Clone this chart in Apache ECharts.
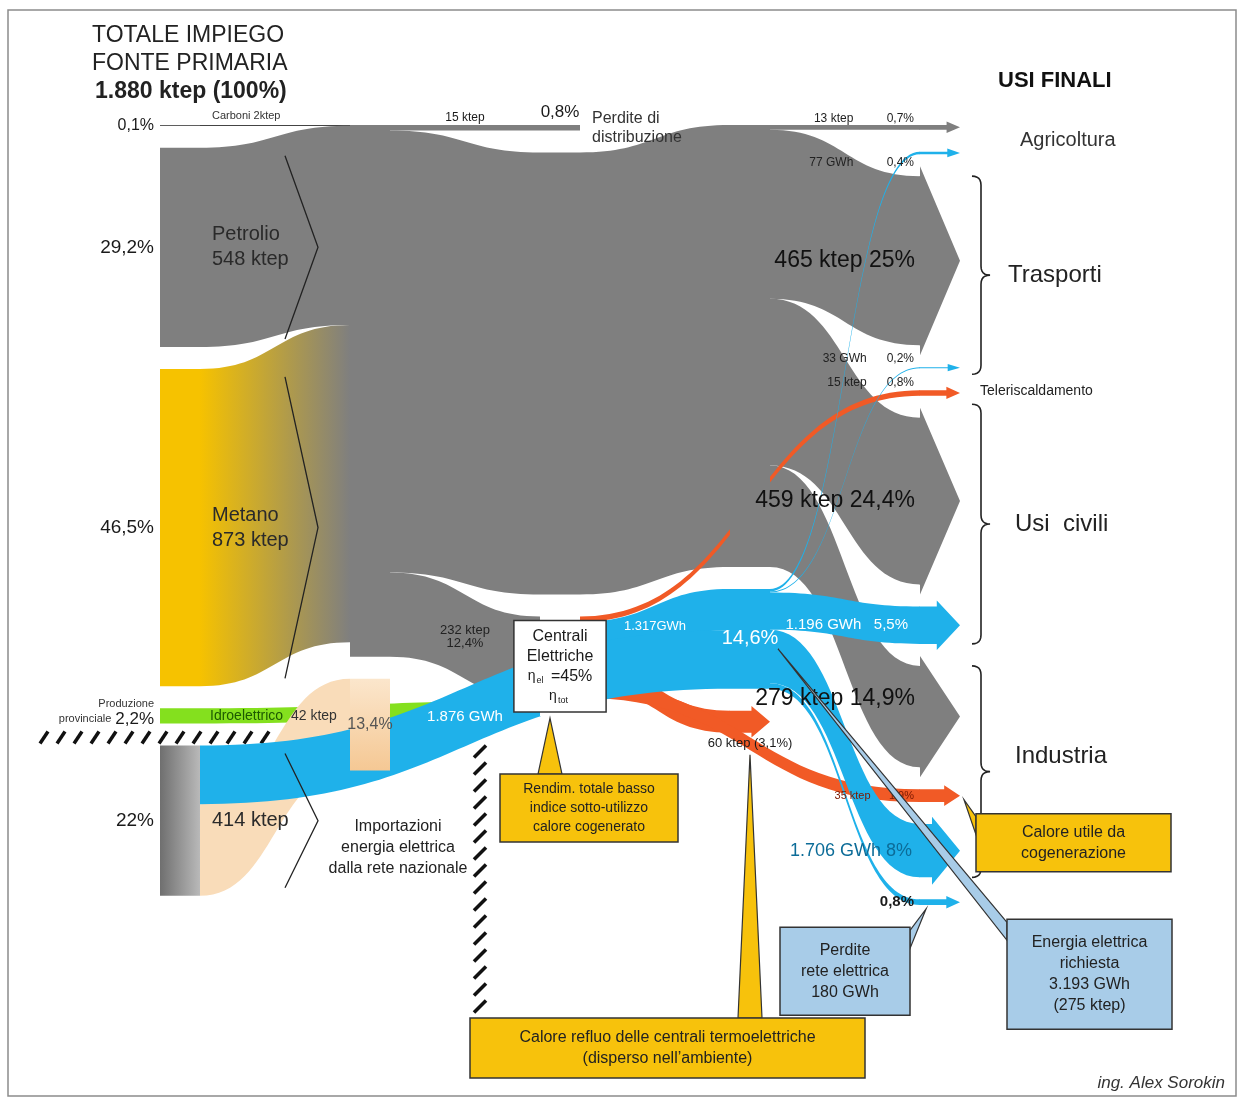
<!DOCTYPE html>
<html lang="it"><head><meta charset="utf-8"><title>Bilancio energetico</title>
<script src="https://cdn.jsdelivr.net/npm/echarts@6.0.0/dist/echarts.min.js"></script>
<style>html,body{margin:0;padding:0;background:#fff}#chart{width:1239px;height:1100px}</style>
</head><body><div id="chart"></div>
<script>
// ---------------- DATA ----------------
const sources = ['Carboni', 'Petrolio', 'Metano', 'Idroelettrico', 'Importazioni'];
const sourceKtep = [2, 548, 873, 42, 414];
const sourcePct = ['0,1%', '29,2%', '46,5%', '2,2%', '22%'];

const fuelDest = ['Perdite di distribuzione', 'Centrali Elettriche', 'Agricoltura', 'Trasporti', 'Usi civili', 'Industria'];
const fuelKtep = [15, 232, 13, 465, 459, 279];
const fuelPct = ['0,8%', '12,4%', '0,7%', '25%', '24,4%', '14,9%'];

const elecSources = ['Centrali Elettriche', 'Importazioni'];
const elecSourceGWh = [1317, 1876];
const elecDest = ['Agricoltura', 'Trasporti', 'Usi civili', 'Industria', 'Perdite rete elettrica'];
const elecGWh = [77, 33, 1196, 1706, 180];
const elecPct = ['0,4%', '0,2%', '5,5%', '8%', '0,8%'];

const heatDest = ['Calore refluo', 'Teleriscaldamento', 'Industria'];
const heatKtep = [60, 15, 35];
const heatPct = ['3,1%', '0,8%', '1,9%'];

const importLossKtep = 252;
const importLossPct = '13,4%';
const elecTotal = { gwh: 3193, ktep: 275, pct: '14,6%' };
const GWH_TO_KTEP = 0.086;

// ---------------- helpers ----------------
const FONT = 'Liberation Sans, Arial, sans-serif';
const COL = { gray: '#7f7f7f', cyan: '#1fb1ea', orange: '#f15a26', green: '#84e01e', yellow: '#f6c200',
  boxY: '#f7c20c', boxB: '#a8cce8' };
const CLEAR = 'rgba(0,0,0,0)';
const fmt = n => String(n).replace(/\B(?=(\d{3})+(?!\d))/g, '.');
const fuelNode = s => s + ' · combustibili';
const elecNode = s => s + ' · energia elettrica';
const HUB1 = 'Combustibili fossili', HUB2 = 'Combustibili (trasporto)', HUB3 = 'Combustibili ai settori';
const ELE = 'Energia elettrica', LOSS = 'Perdite importazione', CEN = 'Centrali Elettriche';
const direct = ['Perdite di distribuzione', CEN, 'Perdite rete elettrica', 'Calore refluo', 'Teleriscaldamento'];
const destNodeName = (d, kind) => direct.indexOf(d) >= 0 ? d : (kind === 'f' ? fuelNode(d) : kind === 'e' ? elecNode(d) : d + ' · calore');

// ---------------- nodes ----------------
const nodes = [];
function addNode(name, depth, style, labA, labB, arrow) { nodes.push({ name, depth, style, labA, labB, arrow: !!arrow }); }

const srcColors = ['#2a2a2a', COL.gray, COL.yellow, COL.green,
  { type: 'linear', x: 0, y: 0, x2: 1, y2: 0, colorStops: [{ offset: 0, color: '#6f6f6f' }, { offset: 1, color: '#b9b9b9' }] }];
sources.forEach((s, i) => {
  let labA = { formatter: sourcePct[i], fontSize: 19 };
  let labB = { formatter: s + '\n' + sourceKtep[i] + ' ktep', fontSize: 20, lineHeight: 25, color: '#2a2a2a' };
  if (s === 'Carboni') { labA = { formatter: sourcePct[i], fontSize: 16 }; labB = { formatter: 'Carboni ' + sourceKtep[i] + 'ktep', fontSize: 11, offset: [0, -9], color: '#333' }; }
  if (s === 'Idroelettrico') {
    labA = { formatter: '{s|Produzione}\n{s|provinciale} {p|' + sourcePct[i] + '}', align: 'right', offset: [0, -3],
      rich: { s: { fontSize: 11, lineHeight: 12, fontFamily: FONT, color: '#333' }, p: { fontSize: 17, lineHeight: 18, fontFamily: FONT, color: '#1a1a1a' } } };
    labB = { formatter: '{g|' + s + '}  ' + sourceKtep[i] + ' ktep', fontSize: 14, color: '#333', distance: 10,
      rich: { g: { fontSize: 14, color: '#1d5a00', fontFamily: FONT } } };
  }
  if (s === 'Importazioni') labB = { formatter: sourceKtep[i] + ' ktep', fontSize: 20, color: '#2a2a2a' };
  addNode(s, 0, { color: srcColors[i] }, labA, labB);
});
addNode(HUB1, 1, { color: COL.gray }, null, null);
addNode(LOSS, 1, { color: { type: 'linear', x: 0, y: 0, x2: 0, y2: 1, colorStops: [{ offset: 0, color: '#fbe6cc' }, { offset: 1, color: '#f5c894' }] } },
  { formatter: importLossPct, position: 'inside', fontSize: 16, color: '#555' }, null);
addNode('Perdite di distribuzione', 2, { color: COL.gray },
  { formatter: fuelPct[0], position: 'top', fontSize: 17, distance: 4 },
  { formatter: 'Perdite di\ndistribuzione', fontSize: 16, lineHeight: 19, color: '#333' });
addNode(HUB2, 2, { color: COL.gray }, null, null);
addNode(CEN, 2, { color: '#ffffff' },
  { formatter: 'Centrali\nElettriche\n{e|η}{s|el} =45%\n{e|η}{s|tot}', position: 'inside', fontSize: 16, lineHeight: 20,
    align: 'center', backgroundColor: '#fff', borderColor: '#333', borderWidth: 1.5, padding: [5, 12],
    rich: { e: { fontSize: 14, fontFamily: FONT, color: '#1a1a1a' }, s: { fontSize: 9, fontFamily: FONT, color: '#1a1a1a', padding: [8, 3, 0, 1] } } },
  null);
addNode(HUB3, 3, { color: COL.gray }, null, null);
addNode(ELE, 3, { color: COL.cyan }, { formatter: elecTotal.pct, position: 'inside', fontSize: 20, color: '#fff' }, null);
addNode('Calore refluo', 3, { color: COL.orange },
  { formatter: heatKtep[0] + ' ktep (' + heatPct[0] + ')', position: 'bottom', fontSize: 13, distance: 4 }, null, true);

const small = (txt, dy, color) => ({ formatter: txt, fontSize: 12, offset: [0, dy], color: color || '#222' });
const big = (txt, dy) => ({ formatter: txt, fontSize: 23, color: '#111', distance: 5, offset: [0, dy || 0] });
addNode(fuelNode('Agricoltura'), 4, { color: COL.gray }, small(fuelKtep[2] + ' ktep          ' + fuelPct[2], -9), null, true);
addNode(elecNode('Agricoltura'), 4, { color: COL.cyan }, small(elecGWh[0] + ' GWh          ' + elecPct[0], 10), null, true);
addNode(fuelNode('Trasporti'), 4, { color: COL.gray }, big(fuelKtep[3] + ' ktep ' + fuelPct[3]), null, true);
addNode(elecNode('Trasporti'), 4, { color: COL.cyan }, small(elecGWh[1] + ' GWh      ' + elecPct[1], -9), null, true);
addNode('Teleriscaldamento', 4, { color: COL.orange }, small(heatKtep[1] + ' ktep      ' + heatPct[1], -10), null, true);
addNode(fuelNode('Usi civili'), 4, { color: COL.gray }, big(fuelKtep[4] + ' ktep ' + fuelPct[4]), null, true);
addNode(elecNode('Usi civili'), 4, { color: COL.cyan }, { formatter: fmt(elecGWh[2]) + ' GWh   ' + elecPct[2], fontSize: 15, color: '#fff', distance: 12 }, null, true);
addNode(fuelNode('Industria'), 4, { color: COL.gray }, big(fuelKtep[5] + ' ktep ' + fuelPct[5], -18), null, true);
addNode('Industria · calore', 4, { color: COL.orange }, { formatter: heatKtep[2] + ' ktep      ' + heatPct[2], fontSize: 11, color: '#7a1800' }, null, true);
addNode(elecNode('Industria'), 4, { color: COL.cyan }, { formatter: fmt(elecGWh[3]) + ' GWh ' + elecPct[3], fontSize: 18, color: '#0c6c98', distance: 8 }, null, true);
addNode('Perdite rete elettrica', 4, { color: COL.cyan }, { formatter: elecPct[4], fontSize: 15, fontWeight: 'bold' }, null, true);

// ---------------- links ----------------
const links = [];
const finalFuelSum = fuelKtep.slice(2).reduce((a, b) => a + b, 0);
[0, 1, 2].forEach(i => links.push({ s: sources[i], t: HUB1, v: sourceKtep[i], c: i === 2 ? 'gradient' : (i === 0 ? '#444' : COL.gray) }));
links.push({ s: HUB1, t: 'Perdite di distribuzione', v: fuelKtep[0], c: COL.gray, lab: { formatter: fuelKtep[0] + ' ktep', fontSize: 12, offset: [0, -10] } });
links.push({ s: HUB1, t: HUB2, v: finalFuelSum, c: COL.gray });
links.push({ s: HUB1, t: CEN, v: fuelKtep[1], c: COL.gray, lab: { formatter: fuelKtep[1] + ' ktep\n' + fuelPct[1], fontSize: 13, color: '#222' } });
links.push({ s: HUB2, t: HUB3, v: finalFuelSum, c: COL.gray });
[2, 3, 4, 5].forEach(i => links.push({ s: HUB3, t: fuelNode(fuelDest[i]), v: fuelKtep[i], c: COL.gray }));
links.push({ s: 'Idroelettrico', t: CEN, v: sourceKtep[3], c: COL.green });
links.push({ s: 'Importazioni', t: LOSS, v: importLossKtep, c: '#f9dcb9' });
heatDest.forEach((d, i) => links.push({ s: CEN, t: destNodeName(d, 'h'), v: heatKtep[i], c: COL.orange }));
links.push({ s: CEN, t: ELE, v: elecSourceGWh[0] * GWH_TO_KTEP, c: COL.cyan, lab: { formatter: fmt(elecSourceGWh[0]) + 'GWh', color: '#fff', fontSize: 13 } });
links.push({ s: 'Importazioni', t: ELE, v: elecSourceGWh[1] * GWH_TO_KTEP, c: COL.cyan, lab: { formatter: fmt(elecSourceGWh[1]) + ' GWh', color: '#fff', fontSize: 15 } });
elecDest.forEach((d, i) => links.push({ s: ELE, t: destNodeName(d, 'e'), v: elecGWh[i] * GWH_TO_KTEP, c: COL.cyan }));

// ---------------- chart ----------------
const BOX = { left: 160, top: 125, width: 800, height: 780 };
function sankey(layer) {
  const A = layer === 'A';
  return {
    type: 'sankey', left: BOX.left, top: BOX.top, width: BOX.width, height: BOX.height,
    nodeWidth: 40, nodeGap: 22, layoutIterations: 0, draggable: false, silent: !A,
    emphasis: { disabled: true }, z: A ? 2 : 3,
    itemStyle: A ? { borderWidth: 0 } : { color: CLEAR, borderWidth: 0 },
    lineStyle: A ? { opacity: 1, curveness: 0.5 } : { color: CLEAR, opacity: 0, curveness: 0.5 },
    label: { show: true, position: A ? 'left' : 'right', distance: A ? 6 : 12, color: '#1a1a1a', fontFamily: FONT, fontSize: 14 },
    edgeLabel: { show: false },
    data: nodes.map(n => {
      const lab = A ? n.labA : n.labB;
      return { name: n.name, depth: n.depth,
        itemStyle: (A && !n.arrow) ? Object.assign({ borderWidth: 0 }, n.style) : { color: CLEAR, borderWidth: 0 },
        label: lab ? Object.assign({ show: true, fontFamily: FONT }, lab) : { show: false } };
    }),
    links: links.map(l => ({ source: l.s, target: l.t, value: l.v,
      lineStyle: A ? { color: l.c, opacity: 1 } : { color: CLEAR, opacity: 0 },
      edgeLabel: (A && l.lab) ? Object.assign({ show: true, color: '#1a1a1a', fontFamily: FONT, fontSize: 13 }, l.lab) : { show: false } }))
  };
}
const chart = echarts.init(document.getElementById('chart'));
chart.setOption({ backgroundColor: '#fff', animation: false, series: [sankey('A'), sankey('B')] });

// ---------------- annotations placed from the computed layout ----------------
const lay = {};
try {
  const d = chart.getModel().getSeriesByIndex(0).getData();
  nodes.forEach((n, i) => { const l = d.getItemLayout(i); lay[n.name] = { x: l.x + BOX.left, y: l.y + BOX.top, w: l.dx, h: l.dy, cy: l.y + BOX.top + l.dy / 2 }; });
} catch (e) { console.log('layout err', e); }

const g = [];
const txt = (x, y, text, style, z) => g.push({ type: 'text', x, y, silent: true, z: z || 50,
  style: Object.assign({ text, fontFamily: FONT, fontSize: 16, fill: '#1a1a1a' }, style || {}) });
g.push({ type: 'rect', shape: { x: 8, y: 10, width: 1228, height: 1086 }, style: { fill: 'none', stroke: '#8c8c8c', lineWidth: 1.5 }, silent: true, z: 0 });
txt(92, 22, 'TOTALE IMPIEGO\nFONTE PRIMARIA', { fontSize: 23, lineHeight: 28, fill: '#222' });
txt(95, 80, '1.880 ktep (100%)', { fontSize: 23, fontWeight: 'bold', fill: '#222' });
txt(998, 70, 'USI FINALI', { fontSize: 22, fontWeight: 'bold', fill: '#111' });
txt(1225, 1075, 'ing. Alex Sorokin', { fontSize: 17, fontStyle: 'italic', fill: '#333', align: 'right' });

function quad(p0, p1, p2, n) {
  const pts = [];
  for (let i = 1; i <= n; i++) { const t = i / n, a = (1 - t) * (1 - t), b = 2 * (1 - t) * t, c = t * t;
    pts.push([a * p0[0] + b * p1[0] + c * p2[0], a * p0[1] + b * p1[1] + c * p2[1]]); }
  return pts;
}
function brace(x, y1, y2) {
  const m = (y1 + y2) / 2, w = 9;
  const pts = [[x, y1]]
    .concat(quad([x, y1], [x + w, y1], [x + w, y1 + w], 6))
    .concat([[x + w, m - w]])
    .concat(quad([x + w, m - w], [x + w, m], [x + 2 * w, m], 6))
    .concat(quad([x + 2 * w, m], [x + w, m], [x + w, m + w], 6))
    .concat([[x + w, y2 - w]])
    .concat(quad([x + w, y2 - w], [x + w, y2], [x, y2], 6));
  g.push({ type: 'polyline', silent: true, z: 50, shape: { points: pts }, style: { fill: null, stroke: '#222', lineWidth: 1.6 } });
  return m;
}
function callout(x, y, w, h, text, fill, tip, fs) {
  const cx = x + w / 2, cy = y + h / 2; fs = fs || 15;
  if (tip) {
    const px = tip[0], py = tip[1]; let b1, b2;
    if (px < x || px > x + w) {
      const bx = px < x ? x : x + w, by = Math.min(Math.max(py, y + 12), y + h - 12);
      b1 = [bx, by - 9]; b2 = [bx, by + 9];
    } else {
      const by = py < y ? y : y + h, bx = Math.min(Math.max(px, x + 14), x + w - 14);
      b1 = [bx - 12, by]; b2 = [bx + 12, by];
    }
    g.push({ type: 'polygon', silent: true, z: 100, shape: { points: [b1, [px, py], b2] }, style: { fill, stroke: '#333', lineWidth: 1.2 } });
  }
  g.push({ type: 'rect', silent: true, z: 101, shape: { x, y, width: w, height: h }, style: { fill, stroke: '#333', lineWidth: 1.5 } });
  g.push({ type: 'text', silent: true, z: 102, x: cx, y: cy, style: { text, fontSize: fs, fontFamily: FONT, fill: '#222', align: 'center', verticalAlign: 'middle', lineHeight: fs + 5 } });
}

if (lay[ELE]) {
  // arrow heads on the final flows
  nodes.forEach(n => {
    if (!n.arrow) return;
    const a = lay[n.name];
    const L = Math.min(a.w, a.h * 0.3 + 12), f = Math.min(10, a.h * 0.08 + 3);
    const xb = a.x + a.w - L;
    g.push({ type: 'polygon', silent: true, z: 1, shape: { points: [[a.x - 0.5, a.y], [xb, a.y], [xb, a.y - f], [a.x + a.w, a.cy], [xb, a.y + a.h + f], [xb, a.y + a.h], [a.x - 0.5, a.y + a.h]] },
      style: { fill: n.style.color, stroke: null } });
  });
  const agF = lay[fuelNode('Agricoltura')], agE = lay[elecNode('Agricoltura')];
  const trF = lay[fuelNode('Trasporti')], trE = lay[elecNode('Trasporti')];
  const tele = lay['Teleriscaldamento'], ucE = lay[elecNode('Usi civili')];
  const inF = lay[fuelNode('Industria')], inH = lay['Industria · calore'], inE = lay[elecNode('Industria')];
  const pr = lay['Perdite rete elettrica'], ele = lay[ELE], cen = lay[CEN], refl = lay['Calore refluo'], imp = lay['Importazioni'];
  const pet = lay['Petrolio'], met = lay['Metano'];
  const bx = 972;
  txt(1020, (agF.cy + agE.cy) / 2, 'Agricoltura', { fontSize: 20, verticalAlign: 'middle', fill: '#333' });
  let m = brace(bx, trF.y, trE.y + trE.h + 6);
  txt(1008, m, 'Trasporti', { fontSize: 24, verticalAlign: 'middle', fill: '#222' });
  txt(980, tele.cy - 2, 'Teleriscaldamento', { fontSize: 14, verticalAlign: 'middle', fill: '#222' });
  m = brace(bx, tele.y + 14, ucE.y + ucE.h);
  txt(1015, m, 'Usi  civili', { fontSize: 24, verticalAlign: 'middle', fill: '#222' });
  m = brace(bx, inF.y, inE.y + inE.h);
  txt(1015, m - 15, 'Industria', { fontSize: 24, verticalAlign: 'middle', fill: '#222' });

  // chevrons inside the primary-source blocks
  [pet, met, imp].forEach(a => g.push({ type: 'polyline', silent: true, z: 40,
    shape: { points: [[a.x + a.w + 85, a.y + 8], [a.x + a.w + 118, a.cy], [a.x + a.w + 85, a.y + a.h - 8]] },
    style: { fill: null, stroke: '#222', lineWidth: 1.3 } }));

  // national grid boundary (hatched)
  const hy = imp.y - 8, hx = 480;
  for (let x = 40; x < hx; x += 17) g.push({ type: 'line', silent: true, z: 1, shape: { x1: x, y1: hy + 6, x2: x + 8, y2: hy - 6 }, style: { stroke: '#111', lineWidth: 3.5 } });
  for (let y = hy + 14; y < 1010; y += 17) g.push({ type: 'line', silent: true, z: 1, shape: { x1: hx - 6, y1: y + 6, x2: hx + 6, y2: y - 6 }, style: { stroke: '#111', lineWidth: 3.5 } });
  txt(398, imp.y + imp.h * 0.68, 'Importazioni\nenergia elettrica\ndalla rete nazionale', { fontSize: 16, lineHeight: 21, align: 'center', verticalAlign: 'middle', fill: '#222' }, 60);

  callout(976, inH.cy + 18, 195, 58, 'Calore utile da\ncogenerazione', COL.boxY, [inH.x + inH.w + 4, inH.cy + 4], 16);
  callout(1007, pr.y + 20, 165, 110, 'Energia elettrica\nrichiesta\n' + fmt(elecTotal.gwh) + ' GWh\n(' + elecTotal.ktep + ' ktep)', COL.boxB, [ele.x + ele.w + 8, ele.cy + 10], 16);
  callout(780, pr.y + 28, 130, 88, 'Perdite\nrete elettrica\n' + elecGWh[4] + ' GWh', COL.boxB, [pr.x + 6, pr.y + pr.h + 4], 16);
  callout(470, 1018, 395, 60, 'Calore refluo delle centrali termoelettriche\n(disperso nell\u2019ambiente)', COL.boxY, [refl.x + refl.w / 2, refl.y + refl.h + 22], 16);
  callout(500, cen.y + cen.h + 58, 178, 68, 'Rendim. totale basso\nindice sotto-utilizzo\ncalore cogenerato', COL.boxY, [cen.x + 10, cen.y + cen.h + 2], 14);
}
chart.setOption({ graphic: { elements: g } });
</script>
</body></html>
